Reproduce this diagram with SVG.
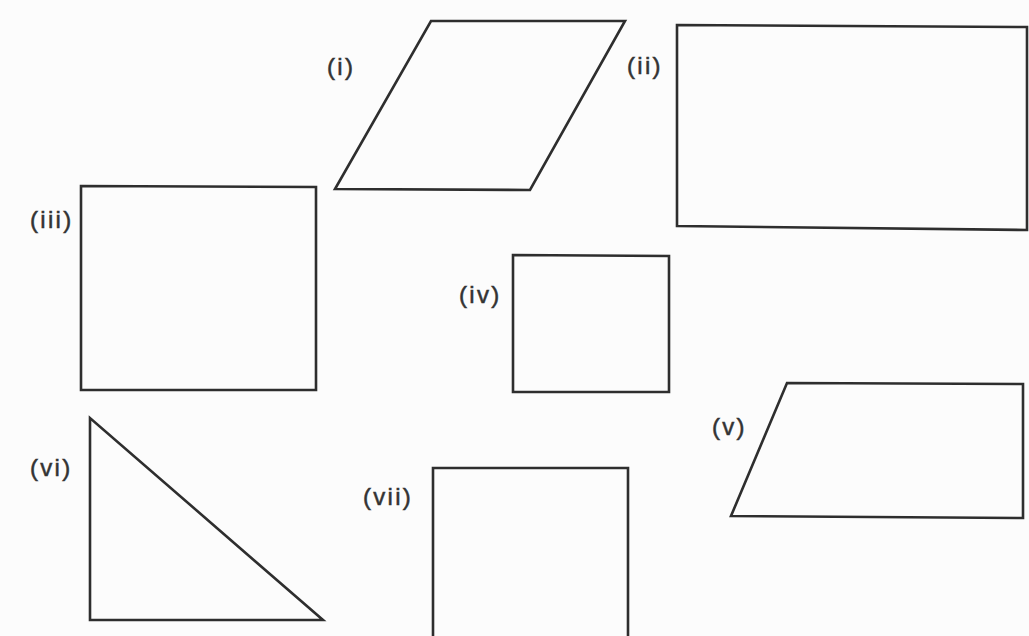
<svg xmlns="http://www.w3.org/2000/svg" width="1029" height="636" viewBox="0 0 1029 636">
  <style>
    .shape { fill: none; stroke: #2e2e2e; stroke-width: 2.6; stroke-linejoin: miter; }
    .label { font-family: "Liberation Sans", Arial, sans-serif; font-size: 24px; fill: #333333; stroke: #333333; stroke-width: 0.5px; letter-spacing: 2.3px; }
  </style>
  <rect x="0" y="0" width="1029" height="636" fill="#fcfcfc"/>
  <g id="shape-i">
    <polygon class="shape" points="431,21 625,21 530,190 335,189"/>
    <text class="label" x="327" y="75">(i)</text>
  </g>
  <g id="shape-ii">
    <polygon class="shape" points="677,25 1027,27 1027,230 677,226"/>
    <text class="label" x="627" y="74">(ii)</text>
  </g>
  <g id="shape-iii">
    <polygon class="shape" points="81,186 316,187 316,390 81,390"/>
    <text class="label" x="30" y="228">(iii)</text>
  </g>
  <g id="shape-iv">
    <polygon class="shape" points="513,255 669,256 669,392 513,392"/>
    <text class="label" x="459" y="303">(iv)</text>
  </g>
  <g id="shape-v">
    <polygon class="shape" points="787,383 1023,384 1023,518 731,516"/>
    <text class="label" x="712" y="435">(v)</text>
  </g>
  <g id="shape-vi">
    <polygon class="shape" points="90,418 90,620 323,620"/>
    <text class="label" x="30" y="476">(vi)</text>
  </g>
  <g id="shape-vii">
    <path class="shape" d="M433,640 V468 H628 V640"/>
    <text class="label" x="363" y="505">(vii)</text>
  </g>
  <g id="connectors"></g>
</svg>
